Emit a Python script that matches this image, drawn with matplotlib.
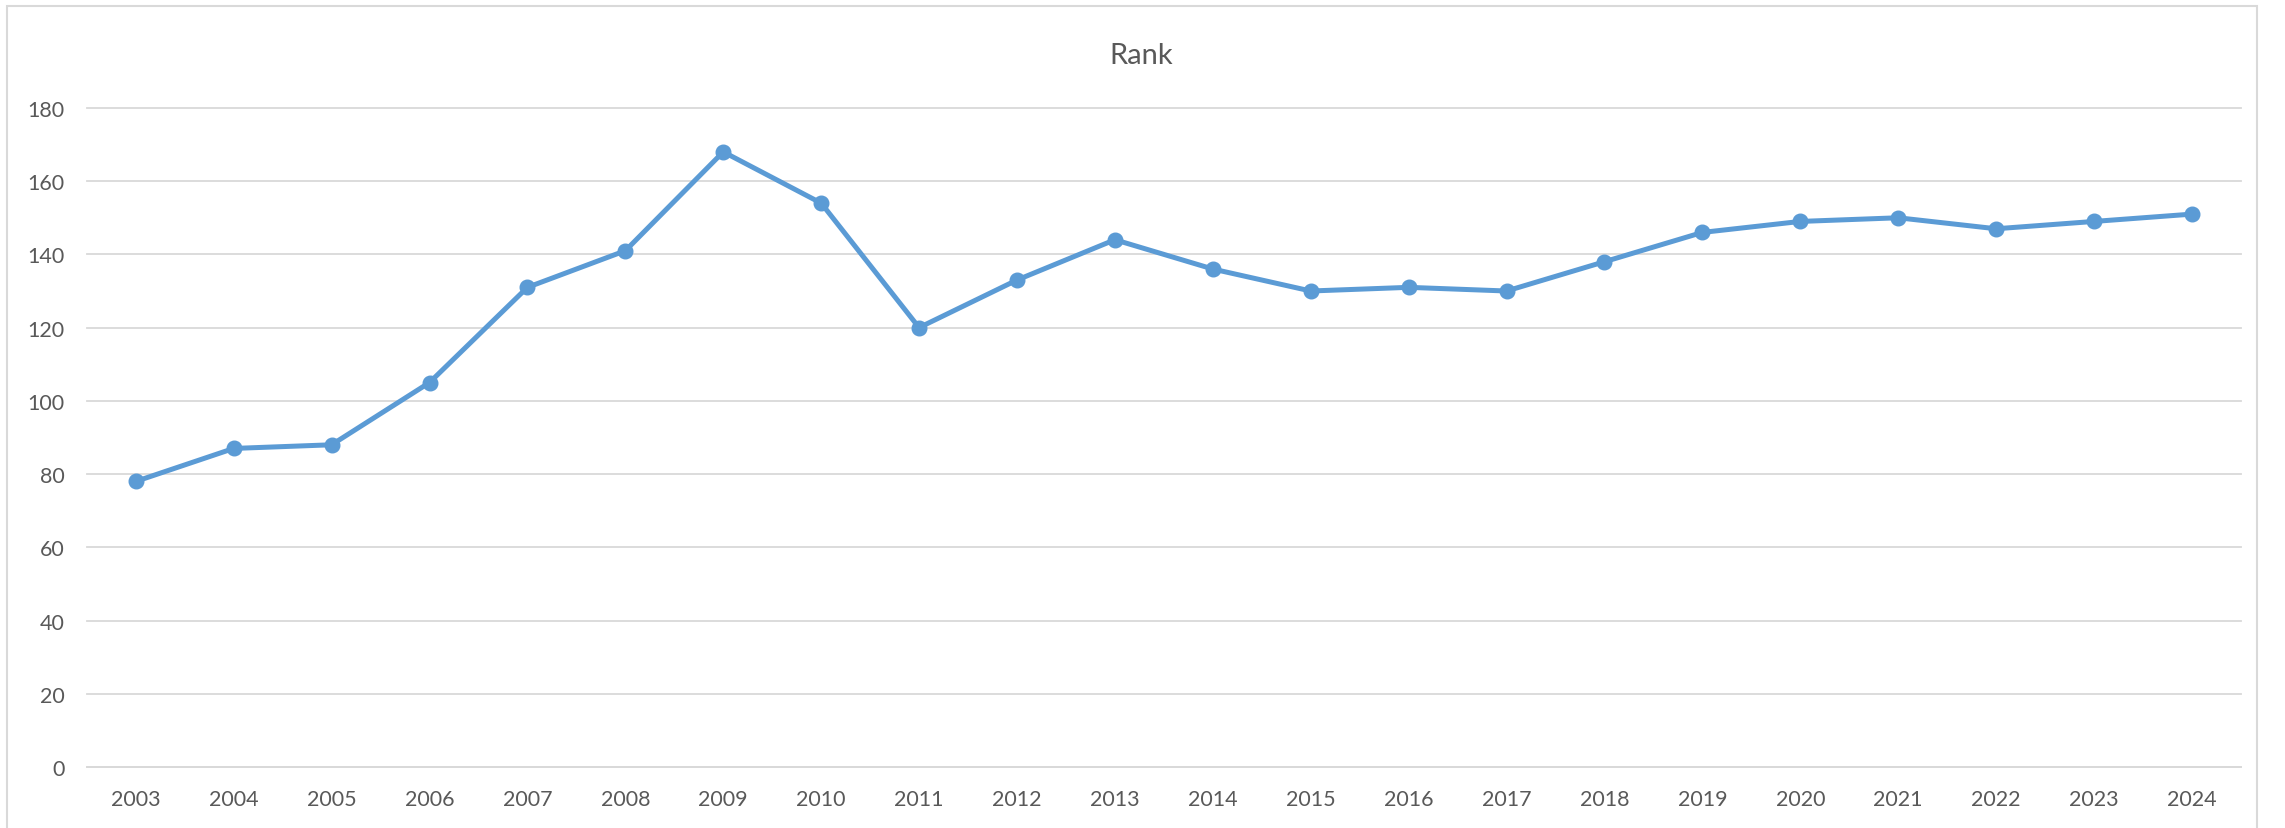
import matplotlib
matplotlib.use("Agg")
import matplotlib.pyplot as plt
from matplotlib.patches import Rectangle

# ── Data ─────────────────────────────────────────────────────────────────────
years = [str(y) for y in range(2003, 2025)]
rank = [78, 87, 88, 105, 131, 141, 168, 154, 120, 133, 144,
        136, 130, 131, 130, 138, 146, 149, 150, 147, 149, 151]
y_ticks = [0, 20, 40, 60, 80, 100, 120, 140, 160, 180]

LINE = "#5B9BD5"
TEXT = "#595959"
GRID = "#D9D9D9"

plt.rcParams["font.family"] = ["Lato", "DejaVu Sans"]

fig = plt.figure(figsize=(22.85, 8.29), dpi=100)
ax = fig.add_axes([0.038, 0.0736, 0.9427, 0.795])

x = list(range(len(years)))
ax.plot(x, rank, color=LINE, linewidth=3.6, marker="o", markersize=10.5,
        markerfacecolor=LINE, markeredgecolor=LINE, zorder=3)

ax.set_xlim(-0.5, len(years) - 0.5)
ax.set_ylim(0, 180)
ax.set_xticks(x)
ax.set_xticklabels(years)
ax.set_yticks(y_ticks)
ax.tick_params(axis="both", length=0, labelsize=15.5, colors=TEXT)
ax.tick_params(axis="x", pad=16)
ax.tick_params(axis="y", pad=16)

ax.grid(axis="y", color=GRID, linewidth=1.3)
for gl in ax.get_ygridlines():
    gl.set_clip_on(False)
ax.set_axisbelow(True)
for side in ["top", "right", "left"]:
    ax.spines[side].set_visible(False)
ax.spines["bottom"].set_color(GRID)
ax.spines["bottom"].set_linewidth(1.3)

fig.text(0.4995, 0.933, "Rank", ha="center", va="center",
         fontsize=21, color=TEXT)

# chart frame (bottom edge runs off the image)
fig.patches.append(Rectangle((0.0032, -0.02), 0.9847, 1.0112,
                             transform=fig.transFigure, fill=False,
                             edgecolor=GRID, linewidth=1.5))

fig.savefig("out.png", dpi=100)
